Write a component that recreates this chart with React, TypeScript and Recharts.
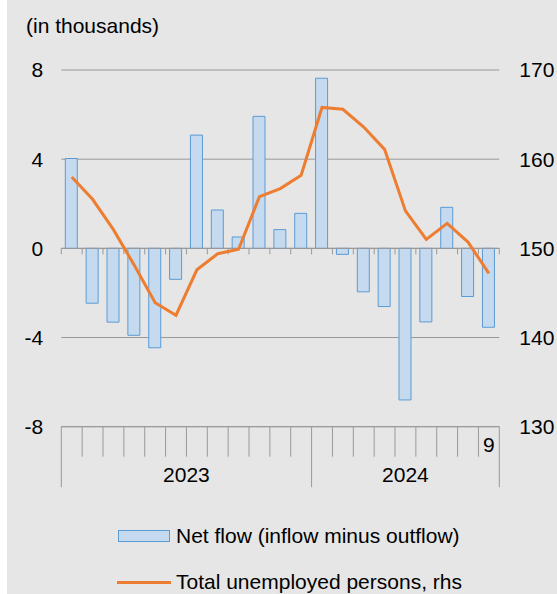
import React from 'react';
import {
  ComposedChart,
  Bar,
  Line,
  XAxis,
  YAxis,
  CartesianGrid,
  ReferenceLine,
  Legend,
} from 'recharts';

const categories = [
  '2023-1', '2023-2', '2023-3', '2023-4', '2023-5', '2023-6', '2023-7', '2023-8', '2023-9', '2023-10', '2023-11', '2023-12',
  '2024-1', '2024-2', '2024-3', '2024-4', '2024-5', '2024-6', '2024-7', '2024-8', '2024-9',
];
const netFlow = [4.03, -2.46, -3.31, -3.9, -4.46, -1.39, 5.08, 1.72, 0.51, 5.92, 0.84, 1.57, 7.63, -0.27, -1.95, -2.61, -6.8, -3.3, 1.84, -2.16, -3.54];
const unemployed = [158.0, 155.5, 152.1, 148.1, 143.9, 142.5, 147.6, 149.4, 149.9, 155.8, 156.7, 158.2, 165.8, 165.6, 163.6, 161.1, 154.2, 151.0, 152.8, 150.7, 147.2];
const leftTicks = [-8, -4, 0, 4, 8];
const rightTicks = [130, 140, 150, 160, 170];
const unitLabel = '(in thousands)';
const netFlowName = 'Net flow (inflow minus outflow)';
const unemployedName = 'Total unemployed persons, rhs';

const data = categories.map((c, i) => ({ cat: c, net: netFlow[i], unemp: unemployed[i] }));
const catYear = categories.map((c) => c.split('-')[0]);
const catMonth = categories.map((c) => c.split('-')[1]);

const FONT = "'Liberation Sans', Arial, sans-serif";
const AXIS_GRAY = '#999999';
const BAR_FILL = '#c5daee';
const BAR_STROKE = '#5b9bd5';
const LINE_COLOR = '#ed7d31';

const CategoryTick = (props: any) => {
  const { x, y, payload } = props;
  const off = payload && payload.offset ? payload.offset : 0;
  const i = payload && typeof payload.index === 'number' ? payload.index : props.index;
  const n = categories.length;
  const left = x - off;
  const yr = catYear[i];
  const first = i === 0 || catYear[i - 1] !== yr;
  const last = i === n - 1;
  const groupCount = catYear.filter((v) => v === yr).length;
  const els: any[] = [];
  els.push(<line key="b" x1={left} y1={y} x2={left} y2={y + (first ? 60.5 : 30)} stroke={AXIS_GRAY} strokeWidth={1} />);
  if (last) {
    els.push(<line key="r" x1={x + off} y1={y} x2={x + off} y2={y + 60.5} stroke={AXIS_GRAY} strokeWidth={1} />);
    els.push(
      <text key="m" x={x} y={y + 17.5} textAnchor="middle" dominantBaseline="central" fontSize={21} fontFamily={FONT} fill="#000">
        {catMonth[i]}
      </text>
    );
  }
  if (first) {
    const cx = left + (groupCount * 2 * off) / 2;
    els.push(
      <text key="y" x={cx} y={y + 48} textAnchor="middle" dominantBaseline="central" fontSize={21} fontFamily={FONT} fill="#000">
        {yr}
      </text>
    );
  }
  return <g>{els}</g>;
};

const ZeroTicks = (p: any) => {
  const { x1, y1, x2, y2 } = p;
  const n = categories.length;
  const step = (x2 - x1) / n;
  const ticks = [];
  for (let k = 0; k <= n; k++) {
    const xx = x1 + k * step;
    ticks.push(<line key={k} x1={xx} y1={y1} x2={xx} y2={y1 + 6} stroke={AXIS_GRAY} strokeWidth={1} />);
  }
  return (
    <g>
      <line x1={x1} y1={y1} x2={x2} y2={y2} stroke={AXIS_GRAY} strokeWidth={1} />
      {ticks}
    </g>
  );
};

const LegendContent = (props: any) => {
  const payload = props.payload || [];
  return (
    <div style={{ fontFamily: FONT, fontSize: 21, color: '#000' }}>
      {payload.map((entry: any, idx: number) => {
        const isLine = entry.type === 'line' || entry.dataKey === 'unemp';
        return (
          <div key={idx} style={{ display: 'flex', alignItems: 'center', height: 24, marginBottom: 22, whiteSpace: 'nowrap' }}>
            {isLine ? (
              <span style={{ display: 'inline-block', width: 54, height: 3, background: LINE_COLOR }} />
            ) : (
              <span
                style={{
                  display: 'inline-block',
                  width: 52,
                  height: 12,
                  marginLeft: 1,
                  marginRight: 1,
                  boxSizing: 'border-box',
                  background: BAR_FILL,
                  border: `1px solid ${BAR_STROKE}`,
                }}
              />
            )}
            <span style={{ marginLeft: 5 }}>{entry.value}</span>
          </div>
        );
      })}
    </div>
  );
};

export default function App() {
  return (
    <div
      style={{
        position: 'absolute',
        left: 7,
        top: 0,
        width: 550,
        height: 594,
        background: '#e6e6e6',
        overflow: 'hidden',
      }}
    >
      <div
        style={{
          position: 'absolute',
          left: 19,
          top: 16,
          fontFamily: FONT,
          fontSize: 21,
          lineHeight: '20px',
          color: '#000',
          whiteSpace: 'nowrap',
        }}
      >
        {unitLabel}
      </div>
      <ComposedChart
        width={550}
        height={594}
        data={data}
        margin={{ top: 70, right: 0, bottom: 0, left: 0 }}
        barSize={12}
      >
        <CartesianGrid horizontal vertical={false} stroke={AXIS_GRAY} strokeWidth={1} />
        <XAxis
          dataKey="cat"
          type="category"
          interval={0}
          height={167.3}
          tickSize={0}
          tickMargin={0}
          tickLine={false}
          axisLine={{ stroke: AXIS_GRAY, strokeWidth: 1 }}
          tick={<CategoryTick />}
        />
        <YAxis
          domain={[-8, 8]}
          ticks={leftTicks}
          width={54.3}
          axisLine={false}
          tickLine={false}
          tickSize={0}
          tickMargin={18}
          tick={{ fontSize: 21, fill: '#000', fontFamily: FONT }}
          interval={0}
        />
        <YAxis
          yAxisId="right"
          orientation="right"
          domain={[130, 170]}
          ticks={rightTicks}
          width={57.7}
          axisLine={false}
          tickLine={false}
          tickSize={0}
          tickMargin={20}
          tick={{ fontSize: 21, fill: '#000', fontFamily: FONT, textAnchor: 'start' }}
          interval={0}
        />
        <ReferenceLine y={0} shape={(p: any) => <ZeroTicks {...p} />} />
        <Bar dataKey="net" name={netFlowName} fill={BAR_FILL} stroke={BAR_STROKE} strokeWidth={1} isAnimationActive={false} />
        <Line
          dataKey="unemp"
          yAxisId="right"
          name={unemployedName}
          type="linear"
          stroke={LINE_COLOR}
          strokeWidth={3}
          dot={false}
          activeDot={false}
          isAnimationActive={false}
        />
        <Legend
          layout="vertical"
          align="center"
          verticalAlign="middle"
          wrapperStyle={{ top: 524, left: 110, width: 420 }}
          content={<LegendContent />}
        />
      </ComposedChart>
    </div>
  );
}
